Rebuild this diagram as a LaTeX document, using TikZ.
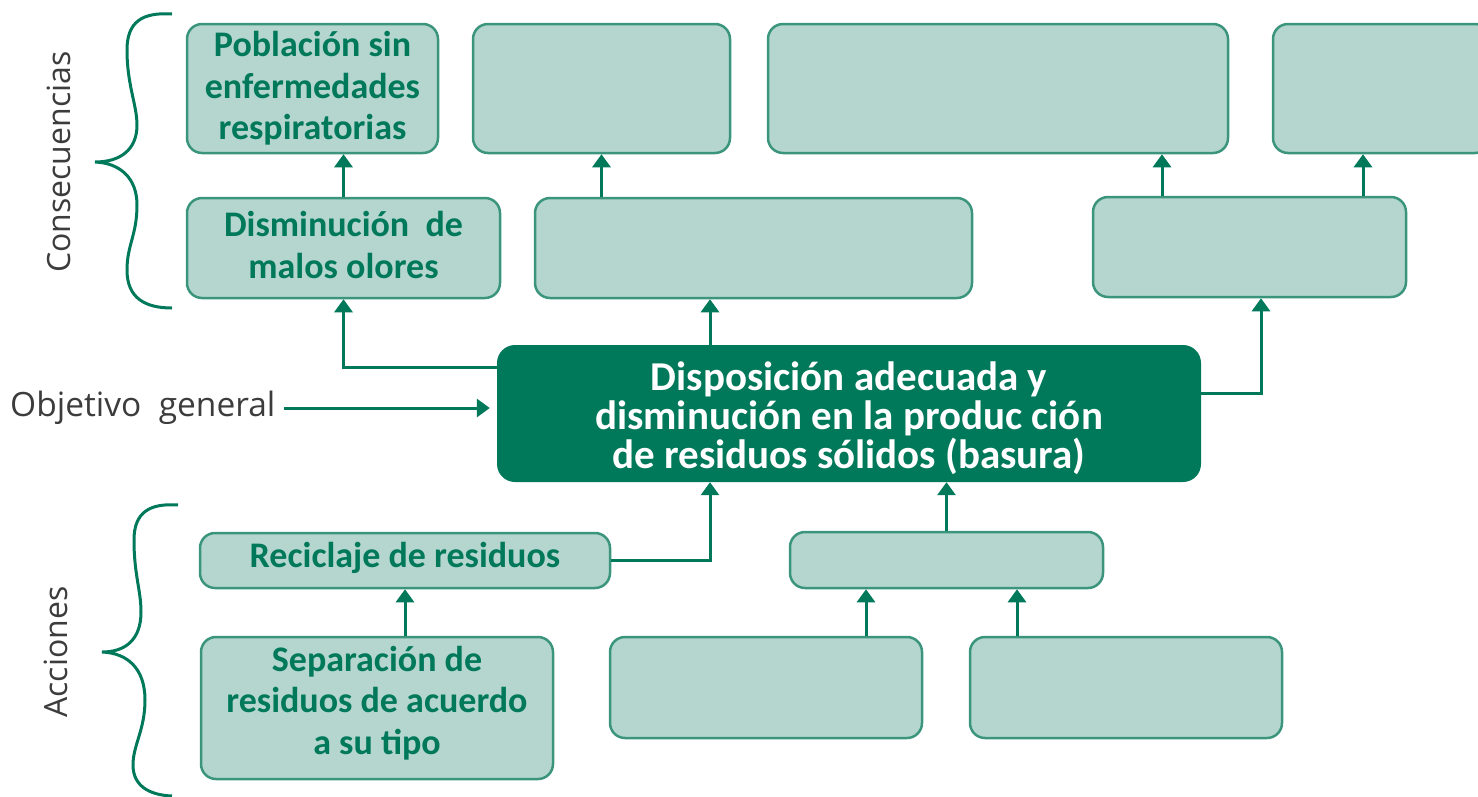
\documentclass[tikz,border=0pt]{standalone}
\usepackage{fontspec}
\setmainfont{Carlito}
\newfontfamily\lblfont{Open Sans}
\usetikzlibrary{arrows.meta,calc}
\definecolor{lfill}{HTML}{B4D6CF}
\definecolor{lborder}{HTML}{3A957C}
\definecolor{dgreen}{HTML}{00785A}
\definecolor{lblgrey}{HTML}{3C3C3C}
\begin{document}
\begin{tikzpicture}[x=1pt,y=-1pt,
  lbox/.style={draw=lborder, line width=2.5pt, fill=lfill, rounded corners=15pt,
    inner sep=0pt},
  ltext/.style={inner sep=0pt, align=center, text=dgreen,
    font=\fontsize{36}{41.5}\selectfont\bfseries},
  mbox/.style={fill=dgreen, rounded corners=18pt, inner sep=0pt},
  mtext/.style={inner sep=0pt, align=center, text=white,
    font=\fontsize{41}{39}\selectfont\bfseries},
  arr/.style={draw=dgreen, line width=3pt, -{Triangle[width=18pt,length=13pt]}},
  bracepath/.style={draw=dgreen, line width=3pt},
  lbl/.style={text=lblgrey, font=\lblfont\fontsize{32}{38}\selectfont, inner sep=0pt}]
\useasboundingbox (0,0) rectangle (1478,796);
\clip (0,0) rectangle (1478,796);

% consequences, upper row
\node[lbox, minimum width=251, minimum height=129] (b1) at (312.5,88.5) {};
\node[lbox, minimum width=257, minimum height=129] (b2) at (601.5,88.5) {};
\node[lbox, minimum width=460, minimum height=129] (b3) at (998,88.5) {};
\node[lbox, minimum width=217, minimum height=129] (b4) at (1381.5,88.5) {};
% consequences, lower row
\node[lbox, minimum width=313, minimum height=100] (c1) at (343.5,248) {};
\node[lbox, minimum width=437, minimum height=100] (c2) at (753.5,248) {};
\node[lbox, minimum width=313, minimum height=100] (c3) at (1249.5,247) {};
% main objective
\node[mbox, minimum width=704, minimum height=137] (m) at (849,413.5) {};
% actions
\node[lbox, minimum width=410, minimum height=55] (a1) at (405,560.5) {};
\node[lbox, minimum width=313, minimum height=56] (a2) at (946.5,560) {};
\node[lbox, minimum width=352, minimum height=142] (a3) at (377,708) {};
\node[lbox, minimum width=312, minimum height=101] (a4) at (766,687.5) {};
\node[lbox, minimum width=312, minimum height=101] (a5) at (1126,687.5) {};

% box texts
\node[ltext] (b1t) at (312.5,88.5) {Población sin\\enfermedades\\respiratorias};
\node[ltext] (c1t) at (343.5,245) {Disminución\ \ de\\malos olores};
\node[mtext] (mt) at (849,418) {Disposición adecuada y\\disminución en la produc ción\\de residuos sólidos (basura)};
\node[ltext] (a1t) at (405,557.5) {Reciclaje de residuos};
\node[ltext] (a3t) at (377,703) {Separación de\\residuos de acuerdo\\a su tipo};

% labels
\node[lbl, rotate=90] (lcons) at (58.5,162) {Consecuencias};
\node[lbl, rotate=90] (lacc) at (56,652) {Acciones};
\node[lbl, anchor=west, font=\lblfont\fontsize{33.5}{38}\selectfont] (obj) at (10,408) {Objetivo\ \ general};

% braces
\draw[bracepath] (172,14) .. controls (142,12) and (127,22) .. (127,50)
  .. controls (127,85) and (137,105) .. (137,125)
  .. controls (137,150) and (120,162) .. (95,162)
  .. controls (120,163) and (137,178) .. (137,205)
  .. controls (137,235) and (127,245) .. (127,270)
  .. controls (127,298) and (145,308) .. (172,308);
\draw[bracepath] (178,505) .. controls (150,503) and (134,512) .. (134,540)
  .. controls (134,575) and (141,590) .. (141,612)
  .. controls (141,640) and (125,652) .. (102,652)
  .. controls (127,653) and (145,668) .. (145,700)
  .. controls (145,730) and (133,745) .. (133,765)
  .. controls (133,785) and (148,795) .. (172,796);

% connectors
\draw[arr] (c1.north) -- (c1.north |- b1.south);
\draw[arr] (b2.south |- c2.north) -- (b2.south);
\draw[arr] (1162,0 |- c3.north) -- (1162,0 |- b3.south);
\draw[arr] (1363,0 |- c3.north) -- (1363,0 |- b4.south);
\draw[arr] (m.west |- 0,367) -| (c1.south);
\draw[arr] (710,0 |- m.north) -- (710,0 |- c2.south);
\draw[arr] (m.east |- 0,393) -| (1261,0 |- c3.south);
\draw[arr, shorten >=7pt] ([xshift=8pt]obj.east) -- (m.west |- obj.east);
\draw[arr] (a1.east) -| (710,0 |- m.south);
\draw[arr] (a2.north) -- (a2.north |- m.south);
\draw[arr] (a1.south |- a3.north) -- (a1.south);
\draw[arr] (866,0 |- a4.north) -- (866,0 |- a2.south);
\draw[arr] (1017,0 |- a5.north) -- (1017,0 |- a2.south);
\end{tikzpicture}
\end{document}
